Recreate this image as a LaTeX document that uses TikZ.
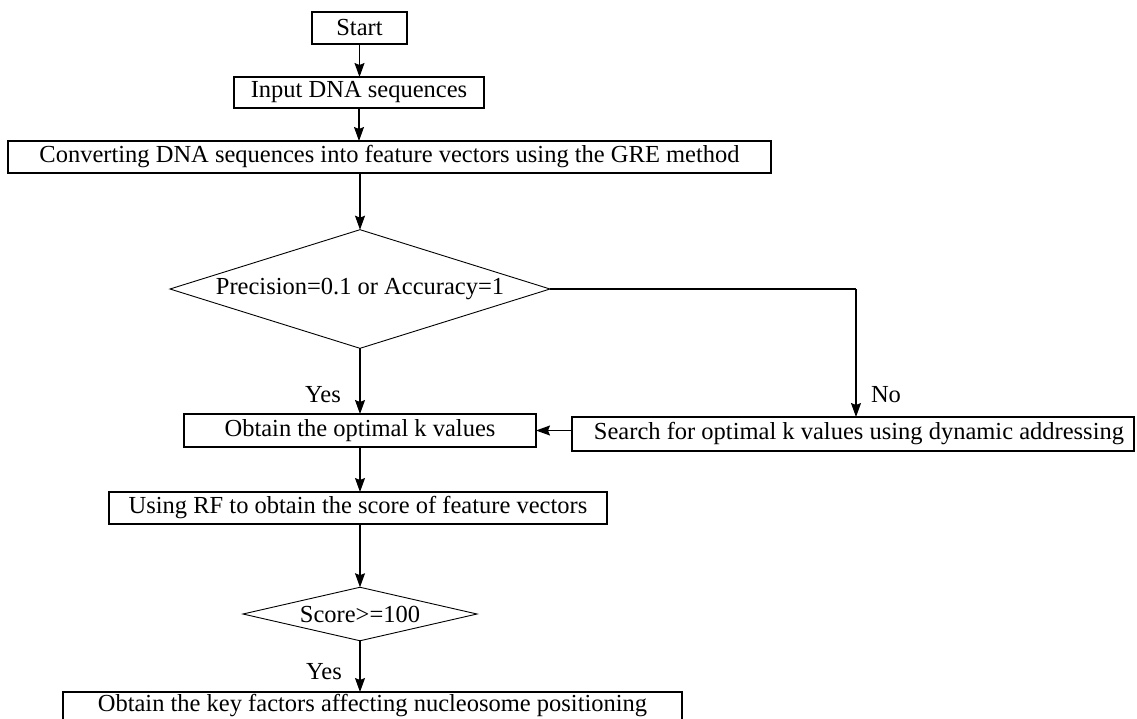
\documentclass[tikz,border=0pt]{standalone}
\usepackage{fontspec}
\setmainfont{Liberation Serif}
\usetikzlibrary{shapes.geometric,arrows.meta}
\begin{document}
\begin{tikzpicture}[x=1pt,y=-1pt,
  every node/.style={font=\fontsize{24.5}{28}\selectfont, inner sep=0pt, outer sep=0pt},
  box/.style={draw, line width=1.2pt, rectangle, align=center},
  dec/.style={draw, line width=0.9pt, diamond},
  lbl/.style={},
  arr/.style={line width=1.1pt, -{Stealth[length=14pt,width=10pt,inset=2pt]}}
]
\clip (0,0) rectangle (1137,718);
\fill[white] (0,0) rectangle (1137,718);

\node[box, minimum width=95pt, minimum height=32pt] (start) at (359.5,28) {Start};
\node[box, minimum width=250pt, minimum height=31pt] (input) at (359,92.5) {Input DNA sequences};
\node[box, minimum width=763pt, minimum height=32pt] (conv) at (389.5,157) {Converting DNA sequences into feature vectors using the GRE method};
\node[dec, aspect=2.97, minimum width=380pt] (dia1) at (360,289) {Precision=0.1 or Accuracy=1};
\node[box, minimum width=352pt, minimum height=33pt] (obtain) at (360,430.5) {Obtain the optimal k values};
\node[box, minimum width=562pt, minimum height=34pt] (search) at (853,434) {\hspace*{12pt}Search for optimal k values using dynamic addressing};
\node[box, minimum width=498pt, minimum height=32pt] (userf) at (358,508) {Using RF to obtain the score of feature vectors};
\node[dec, aspect=3.25, minimum width=234pt] (dia2) at (360,614) {Score>=100};
\node[box, minimum width=619pt, minimum height=28pt] (final) at (372.5,706) {Obtain the key factors affecting nucleosome positioning};

\node[lbl] (yes1) at (323,395) {Yes};
\node[lbl] (no) at (886,395) {No};
\node[lbl] (yes2) at (324,672) {Yes};

\coordinate (noturn) at ([xshift=3pt]search.north |- dia1.east);

\draw[arr] (start.south) -- (start.south |- input.north);
\draw[arr] (input.south) -- (input.south |- conv.north);
\draw[arr] (dia1.north |- conv.south) -- (dia1.north);
\draw[arr] (dia1.south) -- (obtain.north);
\draw[line width=1.1pt] (dia1.east) -- (noturn);
\draw[arr] (noturn) -- ([xshift=3pt]search.north);
\draw[arr] (search.west |- obtain.east) -- (obtain.east);
\draw[arr] (obtain.south) -- (obtain.south |- userf.north);
\draw[arr] (dia2.north |- userf.south) -- (dia2.north);
\draw[arr] (dia2.south) -- (dia2.south |- final.north);
\end{tikzpicture}
\end{document}
